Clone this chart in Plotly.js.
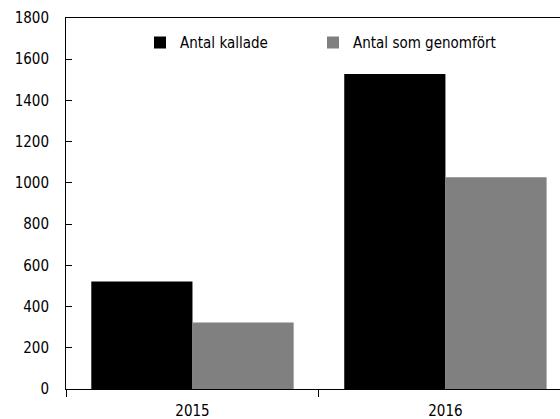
<!DOCTYPE html>
<html><head><meta charset="utf-8">
<script src="https://cdn.plot.ly/plotly-3.0.1.min.js"></script>
<style>body{margin:0;padding:0;background:#fff}#chart{width:560px;height:419px}</style>
</head><body><div id="chart"></div>
<script>
const categories = ["2015", "2016"];
const kallade = [522, 1528];
const genomfort = [323, 1027];
const seriesNames = ["Antal kallade", "Antal som genomfört"];
const yTicks = [0, 200, 400, 600, 800, 1000, 1200, 1400, 1600, 1800];

const FONT = "DejaVu Sans Condensed, Liberation Sans Narrow, sans-serif";
const data = [
  {type: "bar", x: categories, y: kallade, name: seriesNames[0], legend: "legend",
   marker: {color: "#000000", line: {width: 0}}},
  {type: "bar", x: categories, y: genomfort, name: seriesNames[1], legend: "legend2",
   marker: {color: "#808080", line: {width: 0}}}
];
const legendBase = {orientation: "h", xanchor: "left", y: 0.933, yanchor: "middle",
  font: {family: FONT, size: 15, color: "#000"}, bgcolor: "rgba(0,0,0,0)", itemwidth: 30};
const layout = {
  width: 560, height: 419,
  margin: {l: 66, r: 0, t: 18, b: 30, pad: 0},
  paper_bgcolor: "#fff", plot_bgcolor: "#fff",
  font: {family: FONT, size: 15, color: "#000"},
  barmode: "group", bargap: 0.2, bargroupgap: 0,
  showlegend: true,
  legend: Object.assign({}, legendBase, {x: 0.1498}),
  legend2: Object.assign({}, legendBase, {x: 0.5}),
  xaxis: {type: "category", range: [-0.5, 1.453], autorange: false,
          showline: true, linecolor: "#000", linewidth: 1, mirror: true,
          ticks: "outside", ticklen: 7, tickcolor: "#000", tickson: "boundaries",
          ticklabelstandoff: 8,
          showgrid: false, zeroline: false, tickfont: {family: FONT, size: 15}},
  xaxis2: {overlaying: "x", range: [-0.5, 1.453], autorange: false, showline: false,
           tickmode: "array", tickvals: [-0.5, 0.5, 1.5], ticks: "inside", ticklen: 5, tickcolor: "#000",
           showticklabels: false, showgrid: false, zeroline: false},
  yaxis: {range: [0, 1800], autorange: false, tickmode: "array", tickvals: yTicks,
          showline: true, linecolor: "#000", linewidth: 1,
          ticks: "inside", ticklen: 6, tickcolor: "#000", ticklabelstandoff: 13,
          showgrid: false, zeroline: false, tickfont: {family: FONT, size: 15}}
};
Plotly.newPlot("chart", data, layout, {staticPlot: true, displayModeBar: false});
</script></body></html>
